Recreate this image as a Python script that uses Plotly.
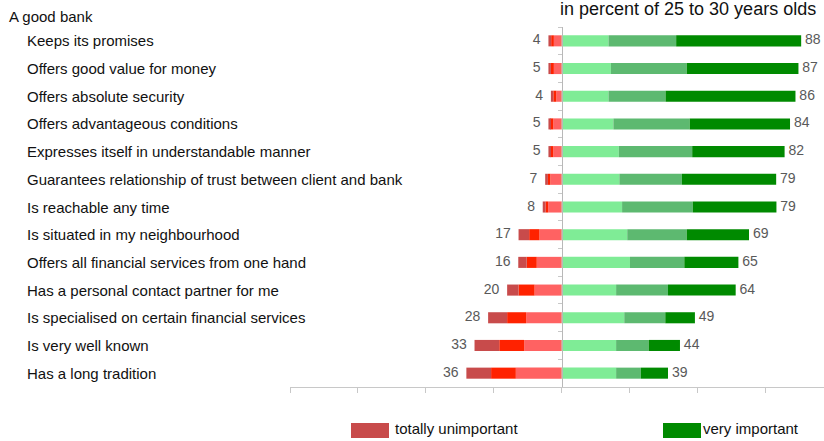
import plotly.graph_objects as go

categories = [
    "Keeps its promises",
    "Offers good value for money",
    "Offers absolute security",
    "Offers advantageous conditions",
    "Expresses itself in understandable manner",
    "Guarantees relationship of trust between client and bank",
    "Is reachable any time",
    "Is situated in my neighbourhood",
    "Offers all financial services from one hand",
    "Has a personal contact partner for me",
    "Is specialised on certain financial services",
    "Is very well known",
    "Has a long tradition",
]

# unimportant side (from zero outward)
rather_unimportant = [2.9, 2.9, 2.0, 3.1, 3.1, 4.2, 5.0, 8.2, 9.2, 10.0, 13.1, 13.8, 16.9]
unimportant = [1.0, 1.1, 1.1, 1.1, 1.1, 0.9, 1.0, 3.8, 3.7, 5.9, 7.0, 9.2, 9.1]
totally_unimportant = [1.0, 0.9, 0.9, 0.7, 0.7, 1.0, 1.0, 3.9, 3.1, 4.2, 7.0, 9.1, 9.1]
unimportant_labels = [4, 5, 4, 5, 5, 7, 8, 17, 16, 20, 28, 33, 36]

# important side (from zero outward)
rather_important = [17.2, 18.1, 17.2, 19.0, 21.0, 21.2, 22.2, 24.1, 25.1, 20.0, 23.0, 20.0, 20.0]
important = [24.9, 27.9, 21.0, 28.1, 27.0, 23.0, 26.0, 21.9, 20.0, 19.1, 15.1, 12.0, 9.1]
very_important = [46.0, 41.1, 47.8, 36.9, 34.0, 34.7, 30.8, 22.9, 19.9, 24.9, 10.9, 11.5, 10.0]
important_labels = [88, 87, 86, 84, 82, 79, 79, 69, 65, 64, 49, 44, 39]

x_range = [-100, 96.5]

W, H = 824, 441
M_L, M_R, M_T, M_B = 290, 0, 27, 54
PW = W - M_L - M_R
PH = H - M_T - M_B


def pxx(px):
    return (px - M_L) / PW


def pxy(py):
    return (H - M_B - py) / PH


FONT = "Liberation Sans, Arial, sans-serif"
C_DRED = "#C84B4B"
C_RED = "#FF2200"
C_LRED = "#FF6262"
C_LGREEN = "#7FEC96"
C_MGREEN = "#5DB970"
C_DGREEN = "#008A00"

fig = go.Figure()


def neg(v):
    return [-a for a in v]


bar_common = dict(orientation="h", y=categories, showlegend=False, hoverinfo="skip",
                  marker_line_width=0)
fig.add_trace(go.Bar(x=neg(rather_unimportant), marker_color=C_LRED, **bar_common))
fig.add_trace(go.Bar(x=neg(unimportant), marker_color=C_RED, **bar_common))
fig.add_trace(go.Bar(x=neg(totally_unimportant), marker_color=C_DRED, **bar_common))
fig.add_trace(go.Bar(x=rather_important, marker_color=C_LGREEN, **bar_common))
fig.add_trace(go.Bar(x=important, marker_color=C_MGREEN, **bar_common))
fig.add_trace(go.Bar(x=very_important, marker_color=C_DGREEN, **bar_common))

neg_tot = [-(a + b + c) for a, b, c in zip(rather_unimportant, unimportant, totally_unimportant)]
pos_tot = [a + b + c for a, b, c in zip(rather_important, important, very_important)]

fig.add_trace(go.Scatter(x=neg_tot, y=categories, mode="text",
                         text=[f"{v}  " for v in unimportant_labels],
                         textposition="middle left",
                         textfont=dict(family=FONT, size=14, color="#595959"),
                         showlegend=False, hoverinfo="skip", cliponaxis=False))
fig.add_trace(go.Scatter(x=pos_tot, y=categories, mode="text",
                         text=[f" {v}" for v in important_labels],
                         textposition="middle right",
                         textfont=dict(family=FONT, size=14, color="#595959"),
                         showlegend=False, hoverinfo="skip", cliponaxis=False))

annotations = []
for c in categories:
    annotations.append(dict(x=pxx(25), xref="paper", y=c, yref="y", text=c,
                            xanchor="left", yanchor="middle", showarrow=False,
                            font=dict(family=FONT, size=15, color="#111111")))
annotations.append(dict(x=pxx(7), xref="paper", y=pxy(16), yref="paper", text="A good bank",
                        xanchor="left", yanchor="middle", showarrow=False,
                        font=dict(family=FONT, size=15, color="#111111")))
annotations.append(dict(x=pxx(818), xref="paper", y=pxy(9), yref="paper",
                        text="in percent of 25 to 30 years olds",
                        xanchor="right", yanchor="middle", showarrow=False,
                        font=dict(family=FONT, size=18, color="#111111")))
annotations.append(dict(x=pxx(393), xref="paper", y=pxy(428), yref="paper",
                        text="totally unimportant",
                        xanchor="left", yanchor="middle", showarrow=False,
                        font=dict(family=FONT, size=15, color="#111111")))
annotations.append(dict(x=pxx(701), xref="paper", y=pxy(428), yref="paper",
                        text="very important",
                        xanchor="left", yanchor="middle", showarrow=False,
                        font=dict(family=FONT, size=15, color="#111111")))

shapes = [
    dict(type="rect", xref="paper", yref="paper", x0=pxx(351), x1=pxx(389),
         y0=pxy(438), y1=pxy(423), fillcolor=C_DRED, line_width=0),
    dict(type="rect", xref="paper", yref="paper", x0=pxx(663), x1=pxx(701),
         y0=pxy(438), y1=pxy(423), fillcolor=C_DGREEN, line_width=0),
]

zero_pos = (0 - x_range[0]) / (x_range[1] - x_range[0])

fig.update_layout(
    width=W, height=H,
    margin=dict(l=M_L, r=M_R, t=M_T, b=M_B, pad=0),
    paper_bgcolor="white", plot_bgcolor="white",
    barmode="relative", bargap=0.6,
    font=dict(family=FONT, size=14, color="#111111"),
    xaxis=dict(range=x_range, showgrid=False, zeroline=False, showline=True,
               linecolor="#C8C8C8", linewidth=1, ticks="outside", ticklen=5,
               tickcolor="#C8C8C8", dtick=25, tick0=0, showticklabels=False,
               fixedrange=True),
    yaxis=dict(range=[len(categories) - 0.5, -0.5], autorange=False,
               showgrid=False, zeroline=False,
               showline=True, linecolor="#B8B8B8", linewidth=1,
               ticks="outside", ticklen=4, tickcolor="#C8C8C8",
               tickson="boundaries", showticklabels=False,
               anchor="free", position=zero_pos, fixedrange=True),
    annotations=annotations,
    shapes=shapes,
)

fig.write_html("out.html")
